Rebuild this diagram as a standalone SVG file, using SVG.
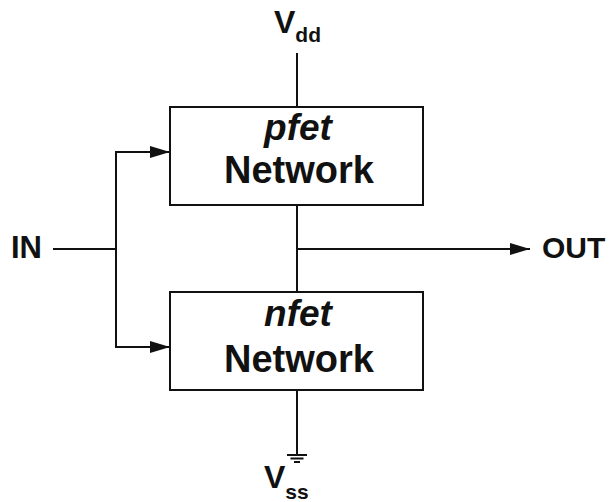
<svg xmlns="http://www.w3.org/2000/svg" width="613" height="502" viewBox="0 0 613 502">
<style>
.ln{stroke:#111;stroke-width:2;fill:none}
.box{stroke:#111;stroke-width:2;fill:#fff}
.t{font-family:"Liberation Sans",Arial,sans-serif;font-weight:bold;fill:#111}
</style>
<defs>
<marker id="ah" markerWidth="20" markerHeight="12" refX="20" refY="6" orient="auto" markerUnits="userSpaceOnUse">
<path d="M0,0 L20,6 L0,12 Z" fill="#111"/>
</marker>
</defs>
<rect width="613" height="502" fill="#fff"/>
<g id="connectors">
<line class="ln" x1="297" y1="53" x2="297" y2="107"/>
<line class="ln" x1="297" y1="205" x2="297" y2="292"/>
<line class="ln" x1="297" y1="249" x2="530" y2="249" marker-end="url(#ah)"/>
<line class="ln" x1="53" y1="249" x2="116" y2="249"/>
<polyline class="ln" points="116,152 116,347"/>
<line class="ln" x1="115" y1="152" x2="170" y2="152" marker-end="url(#ah)"/>
<line class="ln" x1="115" y1="347" x2="170" y2="347" marker-end="url(#ah)"/>
<line class="ln" x1="297" y1="390" x2="297" y2="455"/>
<line class="ln" x1="287" y1="455" x2="307" y2="455"/>
<line class="ln" x1="290.5" y1="458.5" x2="303.5" y2="458.5"/>
<line class="ln" x1="294" y1="462" x2="300" y2="462"/>
</g>
<g id="pfet">
<rect class="box" x="170" y="107" width="253" height="98"/>
<text class="t" x="298" y="140" font-size="37" font-style="italic" text-anchor="middle">pfet</text>
<text class="t" x="299" y="183" font-size="38" text-anchor="middle">Network</text>
</g>
<g id="nfet">
<rect class="box" x="170" y="292" width="253" height="98"/>
<text class="t" x="298" y="326" font-size="37" font-style="italic" text-anchor="middle">nfet</text>
<text class="t" x="299" y="372" font-size="38" text-anchor="middle">Network</text>
</g>
<g id="in"><text class="t" x="11" y="258" font-size="31">IN</text></g>
<g id="out"><text class="t" x="542" y="258" font-size="30">OUT</text></g>
<g id="vdd"><text class="t" x="274" y="33" font-size="32">V<tspan font-size="21" dy="9">dd</tspan></text></g>
<g id="vss"><text class="t" x="264" y="488" font-size="32">V<tspan font-size="21" dy="11">ss</tspan></text></g>
</svg>
